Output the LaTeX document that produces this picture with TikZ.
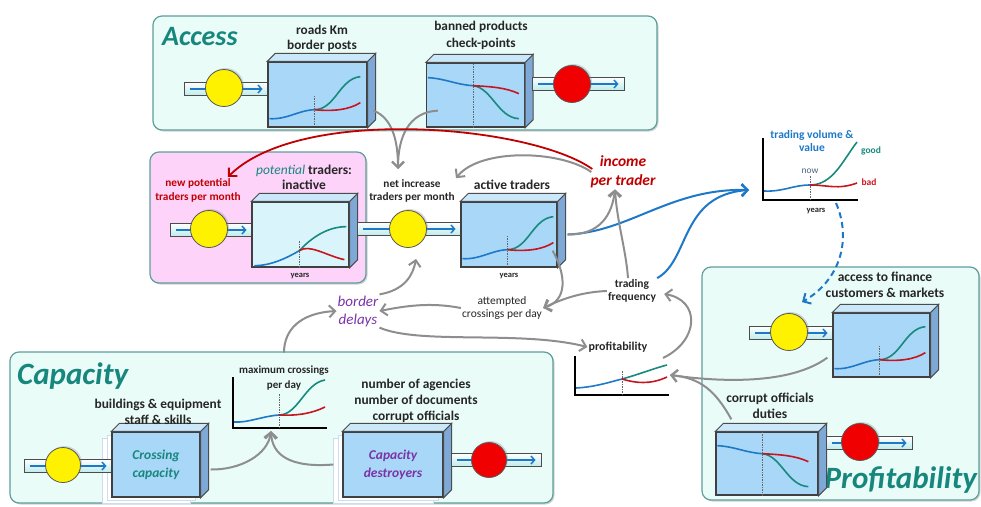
\documentclass[tikz,border=0pt]{standalone}
\usepackage{fontspec}
\setmainfont{Carlito}
\usetikzlibrary{arrows.meta,shadows}

\definecolor{panelfill}{HTML}{E9FCF8}
\definecolor{paneledge}{HTML}{5E9E9B}
\definecolor{pinkfill}{HTML}{FDD3FA}
\definecolor{titleteal}{HTML}{17877E}
\definecolor{boxfront}{HTML}{A9D7F7}
\definecolor{boxside}{HTML}{7EA9D6}
\definecolor{boxtop}{HTML}{CBE8FB}
\definecolor{palefront}{HTML}{D9F5FB}
\definecolor{pipefill}{HTML}{BDEBEA}
\definecolor{linkgray}{HTML}{8E8E8E}
\definecolor{incomered}{HTML}{C00000}
\definecolor{flowblue}{HTML}{1E78C8}
\definecolor{goodteal}{HTML}{178A7C}
\definecolor{badred}{HTML}{C8141E}
\definecolor{delaypurple}{HTML}{7A33A8}
\definecolor{valveyellow}{HTML}{FFF200}
\definecolor{valvered}{HTML}{F00000}
\definecolor{nowgray}{HTML}{50607F}

\tikzset{
  panel/.style={draw=paneledge, line width=1.2pt, fill=panelfill, rounded corners=9pt,
    drop shadow={shadow xshift=1.5pt, shadow yshift=-1.5pt, opacity=0.35}},
  title/.style={font=\bfseries\itshape\fontsize{28}{30}\selectfont, text=titleteal, inner sep=0pt},
  stock/.style={draw=black!75, line width=1.3pt, fill=boxfront, inner sep=0pt,
    minimum width=97pt, minimum height=65pt},
  ghost/.style={draw=boxside!40, line width=0.8pt, fill=white},
  valve/.style={circle, draw=black!65, line width=0.8pt, minimum size=37pt, inner sep=0pt,
    drop shadow={shadow xshift=1.5pt, shadow yshift=1.5pt, opacity=0.3}},
  pipe/.style={draw=black!70, line width=1pt, top color=white, bottom color=pipefill,
    inner sep=0pt, minimum height=13pt},
  pipeflow/.style={draw=flowblue, line width=1.5pt, -{Straight Barb[length=3.5pt,width=8pt]}},
  lbl/.style={font=\bfseries\fontsize{13.3}{16}\selectfont, text=black!85, align=center, inner sep=1pt},
  small/.style={font=\bfseries\fontsize{11.3}{13.5}\selectfont, text=black!85, align=center, inner sep=1pt},
  tiny/.style={font=\bfseries\fontsize{8.5}{9}\selectfont, text=black!85, inner sep=1pt},
  link/.style={draw=linkgray, line width=2pt, -{Straight Barb[length=6pt,width=12pt]}},
  redlink/.style={draw=incomered, line width=1.8pt, -{Straight Barb[length=6pt,width=12pt]}},
  bluelink/.style={draw=flowblue, line width=2pt, -{Straight Barb[length=6pt,width=12pt]}},
  axis/.style={draw=black, line width=1.3pt},
  nowline/.style={draw=black!60, line width=0.5pt, dash pattern=on 1.5pt off 1pt},
  past/.style={draw=flowblue, line width=1.6pt},
  good/.style={draw=goodteal, line width=1.6pt},
  bad/.style={draw=badred, line width=1.6pt}
}

% side and top faces of a stock box
\newcommand{\stockside}[1]{%
  \draw[draw=black!70, line width=1pt, fill=boxside] (#1.north east) -- ++(8,-8)
    -- ([shift={(8,-8)}]#1.south east) -- (#1.south east) -- cycle;
  \draw[draw=black!70, line width=1pt, fill=boxtop] (#1.north west) -- ++(8,-8)
    -- ([shift={(8,-8)}]#1.north east) -- (#1.north east) -- cycle;}

% curves drawn inside the boxes
\newcommand{\growth}[1]{%
  \begin{scope}[shift={(#1.south west)}]
    \draw[nowline] (47,-3) -- (47,-32);
    \draw[past] (2,-9) .. controls (20,-8) and (30,-17) .. (47,-18);
    \draw[good] (47,-18) .. controls (68,-18) and (72,-49) .. (93,-51);
    \draw[bad] (47,-18) .. controls (66,-16) and (82,-18) .. (93,-25);
  \end{scope}}
\newcommand{\decline}[1]{%
  \begin{scope}[shift={(#1.south west)}]
    \draw[nowline] (47,0) -- (47,-64);
    \draw[past] (2,-50) .. controls (20,-49) and (30,-43) .. (47,-42);
    \draw[good] (47,-42) .. controls (66,-40) and (72,-10) .. (93,-9);
    \draw[bad] (47,-42) .. controls (66,-41) and (80,-40) .. (93,-34);
  \end{scope}}

\begin{document}
\begin{tikzpicture}[x=1pt, y=-1pt]
\useasboundingbox (0,0) rectangle (981,506);

% panels
\draw[panel] (153,16) rectangle (657,130);
\draw[panel, fill=pinkfill] (150,152) rectangle (366,283);
\draw[panel] (10,352) rectangle (553,503);
\draw[panel] (702,267) rectangle (979,500);
\node[title, anchor=west] (tAccess) at (162,37) {Access};
\node[title, anchor=west, font=\bfseries\itshape\fontsize{31}{33}\selectfont] (tCapacity) at (17,376) {Capacity};
\node[title, anchor=east, font=\bfseries\itshape\fontsize{31}{33}\selectfont] (tProfit) at (977,480) {Profitability};

% access
\node[pipe, minimum width=84pt] (pRoads) at (226,89) {};
\draw[pipeflow] ([xshift=6pt]pRoads.west) -- ([xshift=-6pt]pRoads.east);
\node[valve, fill=valveyellow] (vRoads) at (224,88) {};
\node[stock, minimum width=99pt] (roads) at (317.5,94.5) {};
\stockside{roads}
\growth{roads}
\node[lbl, font=\bfseries\fontsize{13.3}{15.5}\selectfont] (lRoads) at (322,38.5) {roads Km\\border posts};

\node[stock, minimum width=98pt, minimum height=64pt] (banned) at (475.5,95) {};
\stockside{banned}
\decline{banned}
\node[pipe, minimum width=92pt] (pBanned) at (578,84) {};
\draw[pipeflow] ([xshift=6pt]pBanned.west) -- ([xshift=-6pt]pBanned.east);
\node[valve, fill=valvered] (vBanned) at (572,84) {};
\node[lbl, font=\bfseries\fontsize{13.3}{17}\selectfont] (lBanned) at (481,35.5) {banned products\\check-points};

% traders
\node[pipe, minimum width=82pt] (pNew) at (211,230) {};
\draw[pipeflow] ([xshift=6pt]pNew.west) -- ([xshift=-6pt]pNew.east);
\node[valve, fill=valveyellow] (vNew) at (209,229) {};
\node[stock, fill=palefront] (inactive) at (300.5,234.5) {};
\stockside{inactive}
\begin{scope}[shift={(inactive.south west)}]
  \draw[nowline] (48,0) -- (48,-27);
  \draw[past] (3,-2) .. controls (20,-2) and (36,-10) .. (48,-17);
  \draw[good] (48,-17) .. controls (62,-32) and (78,-41) .. (95,-41);
  \draw[bad] (48,-17) .. controls (58,-24) and (75,-12) .. (93,-8);
\end{scope}
\node[pipe, minimum width=104pt] (pNet) at (409,229) {};
\draw[pipeflow] ([xshift=6pt]pNet.west) -- ([xshift=-6pt]pNet.east);
\node[valve, fill=valveyellow] (vNet) at (408,229) {};
\node[stock, minimum width=96pt] (active) at (509,234.5) {};
\stockside{active}
\growth{active}

\node[small, text=incomered, font=\bfseries\fontsize{11.3}{14}\selectfont] (lNew) at (198,190) {new potential\\traders per month};
\node[lbl, font=\bfseries\fontsize{13.5}{15}\selectfont] (lPotential) at (304,177)
  {{\mdseries\itshape\color{titleteal}potential} traders:\\inactive};
\node[small] (lNet) at (412,191) {net increase\\traders per month};
\node[lbl, font=\bfseries\fontsize{13.5}{15}\selectfont] (lActive) at (512,185) {active traders};
\node[tiny] (yInactive) at (300,276) {years};
\node[tiny] (yActive) at (509,276) {years};

% middle
\node[lbl, text=incomered, font=\bfseries\itshape\fontsize{15.5}{19}\selectfont] (lIncome) at (623,172) {income\\per trader};
\node[small, font=\bfseries\fontsize{11.5}{13.5}\selectfont] (lFreq) at (632,291) {trading\\frequency};
\node[small, font=\fontsize{11.5}{12.5}\selectfont] (lAttempt) at (502,308) {attempted\\crossings per day};
\node[lbl, text=delaypurple, font=\itshape\fontsize{15}{18}\selectfont] (lDelays) at (358,311) {border\\delays};
\node[small, font=\bfseries\fontsize{12}{13}\selectfont] (lProfit) at (618,347) {profitability};

% trading volume chart
\begin{scope}[shift={(763,200)}]
  \draw[axis] (0,-62) -- (0,0) -- (95,0);
  \draw[nowline] (47,0) -- (47,-24);
  \draw[past] (1,-9) .. controls (20,-8) and (30,-15) .. (47,-15);
  \draw[good] (47,-15) .. controls (70,-15) and (80,-40) .. (94,-58);
  \draw[bad] (47,-15) .. controls (65,-15) and (75,-10) .. (94,-17);
\end{scope}
\node[small, text=flowblue, font=\bfseries\fontsize{11.5}{13}\selectfont] (lVolume) at (812,141) {trading volume \&\\value};
\node[tiny, text=nowgray, font=\fontsize{9.5}{10}\selectfont] (lNow) at (810,171) {now};
\node[tiny, text=goodteal, font=\bfseries\fontsize{9.5}{10}\selectfont] (lGood) at (871,151) {good};
\node[tiny, text=badred, font=\bfseries\fontsize{9.5}{10}\selectfont] (lBad) at (869,182) {bad};
\node[tiny] (yVolume) at (816,211) {years};

% profitability chart
\begin{scope}[shift={(575,395)}]
  \draw[axis] (0,-39) -- (0,0) -- (94,0);
  \draw[nowline] (47,0) -- (47,-25);
  \draw[past] (1,-7) .. controls (20,-8) and (35,-13) .. (47,-16);
  \draw[good] (47,-16) .. controls (62,-20) and (80,-27) .. (92,-30);
  \draw[bad] (47,-16) .. controls (60,-12) and (75,-10) .. (92,-18);
\end{scope}

% capacity
\draw[ghost] (102,438) rectangle (190,503);
\draw[ghost] (107,435) rectangle (195,500);
\node[pipe, minimum width=88pt] (pCross) at (68,466) {};
\draw[pipeflow] ([xshift=6pt]pCross.west) -- ([xshift=-6pt]pCross.east);
\node[valve, fill=valveyellow, minimum size=35pt] (vCross) at (63,465) {};
\node[stock, minimum width=88pt, text=titleteal, font=\bfseries\itshape\fontsize{13.5}{18}\selectfont, align=center]
  (crossing) at (156,464.5) {Crossing\\capacity};
\stockside{crossing}
\node[lbl, font=\bfseries\fontsize{13.4}{16}\selectfont] (lBuild) at (158,412) {buildings \& equipment\\staff \& skills};

\draw[ghost] (333,438) rectangle (433,503);
\draw[ghost] (338,435) rectangle (438,500);
\node[stock, minimum width=100pt, text=delaypurple, font=\bfseries\itshape\fontsize{13.5}{18}\selectfont, align=center]
  (destroyers) at (393,464.5) {Capacity\\destroyers};
\stockside{destroyers}
\node[pipe, minimum width=90pt] (pDestr) at (496,460) {};
\draw[pipeflow] ([xshift=6pt]pDestr.west) -- ([xshift=-6pt]pDestr.east);
\node[valve, fill=valvered, minimum size=35pt] (vDestr) at (489,460) {};
\node[lbl, font=\bfseries\fontsize{13.4}{16}\selectfont] (lAgencies) at (416,401) {number of agencies\\number of documents\\corrupt officials};

\begin{scope}[shift={(233,428)}]
  \draw[axis] (0,-51) -- (0,0) -- (94,0);
  \draw[nowline] (46,0) -- (46,-34);
  \draw[past] (1,-6) .. controls (15,-5) and (30,-12) .. (46,-13);
  \draw[good] (46,-13) .. controls (65,-13) and (72,-45) .. (92,-48);
  \draw[bad] (46,-13) .. controls (65,-12) and (80,-15) .. (92,-21);
\end{scope}
\node[small, font=\bfseries\fontsize{11}{15}\selectfont] (lMaxCross) at (284,378) {maximum crossings\\per day};

% profitability
\node[pipe, minimum width=84pt] (pFinance) at (791,333) {};
\draw[pipeflow] ([xshift=6pt]pFinance.west) -- ([xshift=-6pt]pFinance.east);
\node[valve, fill=valveyellow] (vFinance) at (789,332) {};
\node[stock, minimum width=97pt, minimum height=64pt] (finance) at (881.5,345) {};
\stockside{finance}
\growth{finance}
\node[lbl, font=\bfseries\fontsize{13.5}{16}\selectfont] (lFinance) at (885,285) {access to finance\\customers \& markets};

\node[stock, minimum width=102pt, minimum height=63pt] (corrupt) at (767,463.5) {};
\stockside{corrupt}
\decline{corrupt}
\node[pipe, minimum width=86pt] (pCorrupt) at (869,443) {};
\draw[pipeflow] ([xshift=6pt]pCorrupt.west) -- ([xshift=-6pt]pCorrupt.east);
\node[valve, fill=valvered] (vCorrupt) at (860,442) {};
\node[lbl, font=\bfseries\fontsize{13.5}{16}\selectfont] (lCorrupt) at (770,406) {corrupt officials\\duties};

% links
\coordinate (netIn) at (398,169);
\coordinate (volIn) at (749,190);
\coordinate (volOut) at (836,203);
\coordinate (maxIn) at (271,431);
\coordinate (profIn) at (670,375);
\coordinate (profOut) at (663,358);

\draw[link] ([shift={(6,-17)}]roads.south east) .. controls (392,118) and (398,140) .. (netIn);
\draw[link] ([shift={(12,-17)}]banned.south west) .. controls (408,112) and (398,138) .. (netIn);
\draw[redlink] ([shift={(3,-3)}]lIncome.west) .. controls (530,125) and (300,105) .. ([xshift=-14pt]lNew.north east);
\draw[link] ([shift={(2,0)}]lIncome.west) .. controls (560,150) and (480,148) .. (lNet.north east);
\draw[bluelink] ([xshift=10pt]active.east) .. controls (630,232) and (670,188) .. (volIn);
\draw[bluelink] (lFreq.north east) .. controls (690,260) and (680,195) .. (volIn);
\draw[link] ([xshift=10pt]active.east) .. controls (600,235) and (612,215) .. ([xshift=-8pt]lIncome.south);
\draw[link] ([xshift=-4pt]lFreq.north) .. controls (626,250) and (617,222) .. ([xshift=-8pt]lIncome.south);
\draw[link] ([shift={(-5,-17)}]active.south east) .. controls (566,275) and (568,300) .. (lAttempt.east);
\draw[link] (lFreq.west) .. controls (580,292) and (560,300) .. (lAttempt.east);
\draw[link] (lAttempt.west) .. controls (430,302) and (405,306) .. (lDelays.east);
\draw[link] (lDelays.north east) .. controls (405,290) and (413,275) .. ([shift={(8,11)}]vNet.south);
\draw[link] (lDelays.south east) .. controls (420,345) and (520,330) .. (lProfit.west);
\draw[link] ([shift={(0,-12)}]lMaxCross.north) .. controls (284,330) and (300,313) .. (lDelays.west);
\draw[link] ([shift={(10,5)}]crossing.east) .. controls (240,470) and (268,455) .. (maxIn);
\draw[link] ([xshift=-9pt]destroyers.west) .. controls (290,468) and (272,455) .. (maxIn);
\draw[link] (profOut) .. controls (700,340) and (700,300) .. ([shift={(7,3)}]lFreq.east);
\draw[link] ([shift={(-5,-20)}]finance.south west) .. controls (790,385) and (720,382) .. (profIn);
\draw[link] ([shift={(16,-12)}]corrupt.north west) .. controls (715,390) and (700,378) .. (profIn);
\draw[bluelink, dash pattern=on 6pt off 4pt] (volOut) .. controls (852,240) and (840,280) .. ([shift={(13,-11)}]vFinance.north);
\end{tikzpicture}
\end{document}
